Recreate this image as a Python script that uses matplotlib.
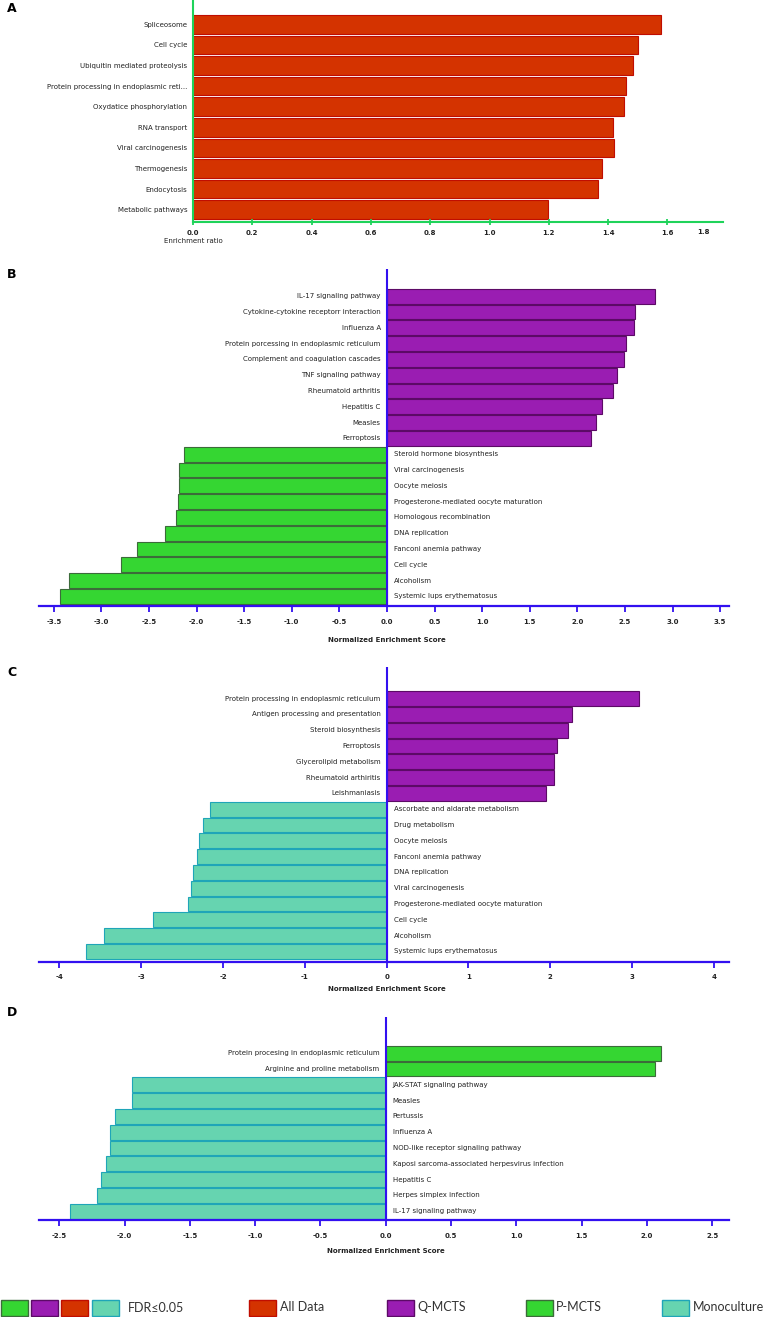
import matplotlib
matplotlib.use("Agg")
import matplotlib.pyplot as plt
from matplotlib.patches import Rectangle
import matplotlib.transforms as mtransforms
import numpy as np

# ---------------- data ----------------
a_labels = ["Spliceosome", "Cell cycle", "Ubiquitin mediated proteolysis",
            "Protein processing in endoplasmic reti...", "Oxydatice phosphorylation",
            "RNA transport", "Viral carcinogenesis", "Thermogenesis", "Endocytosis",
            "Metabolic pathways"]
a_values = [1.58, 1.50, 1.485, 1.46, 1.455, 1.417, 1.419, 1.38, 1.367, 1.198]
a_ticks = [0.0, 0.2, 0.4, 0.6, 0.8, 1.0, 1.2, 1.4, 1.6]
a_last_tick_label = "1.8"

b_pos_labels = ["IL-17 signaling pathway", "Cytokine-cytokine receptorr interaction",
                "Influenza A", "Protein porcessing in endoplasmic reticulum",
                "Complement and coagulation cascades", "TNF signaling pathway",
                "Rheumatoid arthritis", "Hepatitis C", "Measles", "Ferroptosis"]
b_pos_values = [2.82, 2.61, 2.59, 2.51, 2.49, 2.42, 2.37, 2.26, 2.20, 2.14]
b_neg_labels = ["Steroid hormone biosynthesis", "Viral carcinogenesis", "Oocyte meiosis",
                "Progesterone-mediated oocyte maturation", "Homologous recombination",
                "DNA replication", "Fanconi anemia pathway", "Cell cycle", "Alcoholism",
                "Systemic lups erythematosus"]
b_neg_values = [-2.13, -2.18, -2.18, -2.20, -2.22, -2.33, -2.63, -2.79, -3.34, -3.44]
b_ticks = [-3.5, -3.0, -2.5, -2.0, -1.5, -1.0, -0.5, 0.0, 0.5, 1.0, 1.5, 2.0, 2.5, 3.0, 3.5]

c_pos_labels = ["Protein processing in endoplasmic reticulum",
                "Antigen processing and presentation", "Steroid biosynthesis",
                "Ferroptosis", "Glycerolipid metabolism", "Rheumatoid arthiritis",
                "Leishmaniasis"]
c_pos_values = [3.09, 2.27, 2.22, 2.08, 2.04, 2.04, 1.95]
c_neg_labels = ["Ascorbate and aldarate metabolism", "Drug metabolism", "Oocyte meiosis",
                "Fanconi anemia pathway", "DNA replication", "Viral carcinogenesis",
                "Progesterone-mediated oocyte maturation", "Cell cycle", "Alcoholism",
                "Systemic lups erythematosus"]
c_neg_values = [-2.16, -2.24, -2.30, -2.32, -2.37, -2.39, -2.43, -2.86, -3.45, -3.67]
c_ticks = [-4, -3, -2, -1, 0, 1, 2, 3, 4]

d_pos_labels = ["Protein procesing in endoplasmic reticulum",
                "Arginine and proline metabolism"]
d_pos_values = [2.11, 2.06]
d_neg_labels = ["JAK-STAT signaling pathway", "Measles", "Pertussis", "Influenza A",
                "NOD-like receptor signaling pathway",
                "Kaposi sarcoma-associated herpesvirus infection", "Hepatitis C",
                "Herpes simplex infection", "IL-17 signaling pathway"]
d_neg_values = [-1.94, -1.94, -2.07, -2.11, -2.11, -2.14, -2.18, -2.21, -2.42]
d_ticks = [-2.5, -2.0, -1.5, -1.0, -0.5, 0.0, 0.5, 1.0, 1.5, 2.0, 2.5]

legend_fdr_label = "FDR\u22640.05"
legend_labels = ["All Data", "Q-MCTS", "P-MCTS", "Monoculture"]

# ---------------- style ----------------
RED, RED_E = "#d43300", "#c00d00"
PURPLE, PURPLE_E = "#9a1db2", "#5c0a66"
GREEN, GREEN_E = "#35d632", "#3c6b3a"
TEAL, TEAL_E = "#66d4b0", "#1fa5b8"
BLUE = "#3210f0"
AGREEN = "#1fd35a"
TXT = "#222222"

W, H = 768, 1317
fig = plt.figure(figsize=(W / 100, H / 100), dpi=100)
plt.rcParams['font.family'] = ['DejaVu Sans']


def px_axes(left, top, right, bottom):
    return fig.add_axes([left / W, 1 - bottom / H, (right - left) / W, (bottom - top) / H])


def fmt(v, dec):
    if dec == 0:
        return "%d" % v
    return ("%." + str(dec) + "f") % v


# ---------------- Panel A ----------------
axA = px_axes(193, 0, 193 + 1.8 * 296.5, 222)
ya = np.arange(len(a_values))
axA.barh(ya, a_values, height=0.9, color=RED, edgecolor=RED_E, linewidth=0.8)
axA.set_xlim(0, 1.8)
axA.set_ylim(9.6, -1.18)
axA.set_yticks(ya)
axA.set_yticklabels(a_labels, fontsize=5, color=TXT)
axA.tick_params(axis='y', length=0, pad=4)
axA.set_xticks(a_ticks)
axA.set_xticklabels([fmt(t, 1) for t in a_ticks], fontsize=5, fontweight='bold', color=TXT)
axA.tick_params(axis='x', direction='inout', length=5, width=1.3, color=AGREEN, pad=3)
for s in ['top', 'right']:
    axA.spines[s].set_visible(False)
axA.spines['left'].set_color(AGREEN)
axA.spines['left'].set_linewidth(1.5)
axA.spines['bottom'].set_color(AGREEN)
axA.spines['bottom'].set_linewidth(1.5)
axA.spines['bottom'].set_bounds(0, 1.787)
trA = mtransforms.blended_transform_factory(axA.transData, axA.transAxes)
axA.text(1.72, -(232 - 222) / 222, a_last_tick_label, transform=trA, ha='center',
         va='center', fontsize=5, fontweight='bold', color=TXT)
axA.text(0, -(241 - 222) / 222, "Enrichment ratio", transform=trA, ha='center', va='center',
         fontsize=5, color=TXT)
fig.text(12 / W, 1 - 9 / H, "A", fontsize=9, fontweight='bold', ha='center', va='center')


# ---------------- diverging panels ----------------
def diverging(top, bottom, zero_px, ppu, pos_labels, pos_values, pos_col, pos_edge,
              neg_labels, neg_values, neg_col, neg_edge, ticks, dec, first_bar_top,
              letter, letter_y, tick_label_off, xlabel_off):
    left, right = 38.7, 729.3
    ax = px_axes(left, top, right, bottom)
    ax.set_xlim((left - zero_px) / ppu, (right - zero_px) / ppu)
    n = len(pos_values) + len(neg_values)
    pitch = 15.8
    ax.set_ylim(n - 0.5 + (bottom - (first_bar_top + n * pitch)) / pitch,
                -0.5 - (first_bar_top - top) / pitch)
    yp = np.arange(len(pos_values))
    yn = np.arange(len(pos_values), n)
    ax.barh(yp, pos_values, height=0.94, color=pos_col, edgecolor=pos_edge, linewidth=0.8)
    ax.barh(yn, neg_values, height=0.94, color=neg_col, edgecolor=neg_edge, linewidth=0.8)
    for y, lab in zip(yp, pos_labels):
        ax.annotate(lab, (0, y), xytext=(-4.5, 0), textcoords='offset points',
                    ha='right', va='center', fontsize=5, color=TXT)
    for y, lab in zip(yn, neg_labels):
        ax.annotate(lab, (0, y), xytext=(5, 0), textcoords='offset points',
                    ha='left', va='center', fontsize=5, color=TXT)
    ax.axvline(0, color=BLUE, linewidth=1.5)
    ax.set_yticks([])
    for s in ['top', 'right', 'left']:
        ax.spines[s].set_visible(False)
    ax.spines['bottom'].set_color(BLUE)
    ax.spines['bottom'].set_linewidth(1.6)
    ax.set_xticks(ticks)
    ax.set_xticklabels([fmt(t, dec) for t in ticks], fontsize=5, fontweight='bold', color=TXT)
    ax.tick_params(axis='x', direction='out', length=4.5, width=1.3, color=BLUE,
                   pad=tick_label_off)
    tr = mtransforms.blended_transform_factory(ax.transData, ax.transAxes)
    ax.text(0, -xlabel_off / (bottom - top), "Normalized Enrichment Score", transform=tr,
            ha='center', va='center', fontsize=5, fontweight='bold', color=TXT)
    fig.text(12 / W, 1 - letter_y / H, letter, fontsize=9, fontweight='bold',
             ha='center', va='center')
    return ax


diverging(269, 606, 387.0, 95.2, b_pos_labels, b_pos_values, PURPLE, PURPLE_E,
          b_neg_labels, b_neg_values, GREEN, GREEN_E, b_ticks, 1, 288.3,
          "B", 275, 5.0, 34)
diverging(667, 961.7, 386.7, 81.8, c_pos_labels, c_pos_values, PURPLE, PURPLE_E,
          c_neg_labels, c_neg_values, TEAL, TEAL_E, c_ticks, 0, 690.7,
          "C", 673, 4.5, 27)
diverging(1017, 1219.7, 385.7, 130.6, d_pos_labels, d_pos_values, GREEN, GREEN_E,
          d_neg_labels, d_neg_values, TEAL, TEAL_E, d_ticks, 1, 1045.3,
          "D", 1012, 5.0, 31)

# ---------------- legend ----------------
axL = px_axes(0, 1290, W, H)
axL.set_xlim(0, W)
axL.set_ylim(H, 1290)
axL.axis('off')
box_y, box_h = 1300, 15.5
fdr_boxes = [(0.7, GREEN, GREEN_E), (31, PURPLE, PURPLE_E), (61.3, RED, RED_E),
             (92.3, TEAL, TEAL_E)]
for x0, fc, ec in fdr_boxes:
    axL.add_patch(Rectangle((x0, box_y), 27, box_h, facecolor=fc, edgecolor=ec, linewidth=1))
lf = dict(fontsize=9, color="#333333", va='center', ha='left', family=['Lato', 'DejaVu Sans'])
axL.text(127.7, box_y + box_h / 2, legend_fdr_label, **lf)
entries = [(249.3, RED, RED_E), (386.7, PURPLE, PURPLE_E), (525.7, GREEN, GREEN_E),
           (662.3, TEAL, TEAL_E)]
for (x0, fc, ec), lab in zip(entries, legend_labels):
    axL.add_patch(Rectangle((x0, box_y), 27, box_h, facecolor=fc, edgecolor=ec, linewidth=1))
    axL.text(x0 + 30.5, box_y + box_h / 2 - 0.5, lab, **lf)

fig.savefig("out.png", dpi=100)
